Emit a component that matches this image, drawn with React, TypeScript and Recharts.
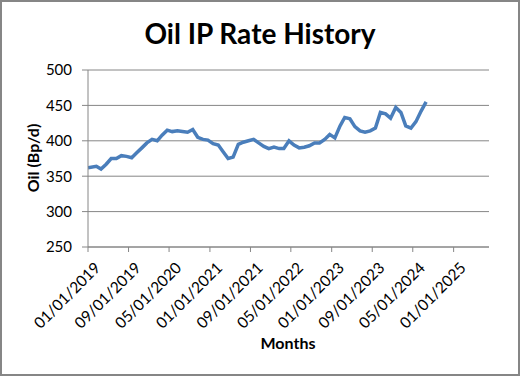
import React from "react";
import { LineChart, Line, XAxis, YAxis, CartesianGrid } from "recharts";

const dates: string[] = [
  "2019-01-01", "2019-02-20", "2019-03-20", "2019-04-20", "2019-05-20", "2019-06-20",
  "2019-07-20", "2019-08-20", "2019-09-20", "2019-10-20", "2019-11-20", "2019-12-20",
  "2020-01-20", "2020-02-20", "2020-03-20", "2020-04-20", "2020-05-20", "2020-06-20",
  "2020-07-20", "2020-08-20", "2020-09-20", "2020-10-20", "2020-11-20", "2020-12-20",
  "2021-01-20", "2021-02-20", "2021-03-20", "2021-04-20", "2021-05-20", "2021-06-20",
  "2021-07-20", "2021-08-20", "2021-09-20", "2021-10-20", "2021-11-20", "2021-12-20",
  "2022-01-20", "2022-02-20", "2022-03-20", "2022-04-20", "2022-05-20", "2022-06-20",
  "2022-07-20", "2022-08-20", "2022-09-20", "2022-10-20", "2022-11-20", "2022-12-20",
  "2023-01-20", "2023-02-20", "2023-03-20", "2023-04-20", "2023-05-20", "2023-06-20",
  "2023-07-20", "2023-08-20", "2023-09-20", "2023-10-20", "2023-11-20", "2023-12-20",
  "2024-01-20", "2024-02-20", "2024-03-20", "2024-04-20", "2024-05-20", "2024-06-20",
  "2024-07-20",
];

const oilRate: number[] = [
  362, 364, 360, 367, 375, 375, 379, 378, 376, 383,
  390, 397, 402, 400, 408, 415, 413, 414, 413, 412,
  416, 405, 402, 401, 396, 394, 385, 375, 377, 395,
  398, 400, 402, 397, 392, 389, 391, 389, 389, 400,
  394, 390, 391, 393, 397, 397, 402, 409, 404, 421,
  433, 431, 420, 414, 412, 414, 418, 440, 438, 432,
  447, 440, 421, 418, 427, 442, 455,
];

const xTickDates: string[] = [
  "2019-01-01", "2019-09-01", "2020-05-01", "2021-01-01", "2021-09-01",
  "2022-05-01", "2023-01-01", "2023-09-01", "2024-05-01", "2025-01-01",
];
const xMinDate = "2019-01-01";
const xMaxDate = "2025-08-01";
const yTicks: number[] = [250, 300, 350, 400, 450, 500];

const DAY = 86400000;
const toDay = (s: string) => {
  const [y, m, d] = s.split("-").map(Number);
  return Math.round((Date.UTC(y, m - 1, d) - Date.UTC(2019, 0, 1)) / DAY);
};
const fmtDay = (n: number) => {
  const dt = new Date(Date.UTC(2019, 0, 1) + n * DAY);
  const mm = String(dt.getUTCMonth() + 1).padStart(2, "0");
  const dd = String(dt.getUTCDate()).padStart(2, "0");
  return `${mm}/${dd}/${dt.getUTCFullYear()}`;
};

const data = dates.map((d, i) => ({ t: toDay(d), v: oilRate[i] }));
const xTicks = xTickDates.map(toDay);

const FONT = "Lato, 'DejaVu Sans', sans-serif";
const GRID = "#868686";

const XTick = (props: any) => {
  const { x, y, payload } = props;
  return (
    <g transform={`translate(${x + 2},${y + 14})`}>
      <text
        x={0}
        y={0}
        dx={6}
        dy={10}
        textAnchor="end"
        transform="rotate(-45)"
        fontFamily={FONT}
        fontSize={15.5}
        fill="#000"
      >
        {fmtDay(payload.value)}
      </text>
    </g>
  );
};

export default function App() {
  return (
    <div
      style={{
        position: "absolute",
        left: 0,
        top: 0,
        width: 520,
        height: 376,
        background: "#fff",
        fontFamily: FONT,
      }}
    >
      <LineChart
        width={520}
        height={376}
        data={data}
        margin={{ top: 70, right: 31, bottom: 0, left: 0 }}
      >
        <CartesianGrid vertical={false} stroke={GRID} strokeWidth={1} />
        <XAxis
          dataKey="t"
          type="number"
          domain={[toDay(xMinDate), toDay(xMaxDate)]}
          ticks={xTicks}
          interval={0}
          height={129}
          tickSize={5}
          tickMargin={0}
          stroke={GRID}
          tick={<XTick />}
          allowDataOverflow
        />
        <YAxis
          type="number"
          domain={[250, 500]}
          ticks={yTicks}
          interval={0}
          width={88}
          tickSize={6}
          tickMargin={10}
          stroke={GRID}
          tick={{ fill: "#000", fontSize: 15, fontFamily: FONT }}
        />
        <Line
          type="linear"
          dataKey="v"
          stroke="#4a7ebb"
          strokeWidth={3.5}
          dot={false}
          isAnimationActive={false}
        />
      </LineChart>
      <div
        style={{
          position: "absolute",
          left: 0,
          top: 0,
          width: 520,
          height: 376,
          boxSizing: "border-box",
          border: "2px solid #868686",
          pointerEvents: "none",
        }}
      />
      <div
        style={{
          position: "absolute",
          left: 0,
          width: 520,
          top: 16,
          textAlign: "center",
          fontSize: 28,
          fontWeight: 700,
          lineHeight: "34px",
          color: "#000",
        }}
      >
        Oil IP Rate History
      </div>
      <div
        style={{
          position: "absolute",
          left: 188,
          width: 200,
          top: 333,
          textAlign: "center",
          fontSize: 16,
          fontWeight: 700,
          lineHeight: "20px",
          color: "#000",
        }}
      >
        Months
      </div>
      <div
        style={{
          position: "absolute",
          left: 33 - 60,
          top: 158 - 10,
          width: 120,
          height: 20,
          textAlign: "center",
          fontSize: 16,
          fontWeight: 700,
          lineHeight: "20px",
          color: "#000",
          transform: "rotate(-90deg)",
        }}
      >
        Oil (Bp/d)
      </div>
    </div>
  );
}
